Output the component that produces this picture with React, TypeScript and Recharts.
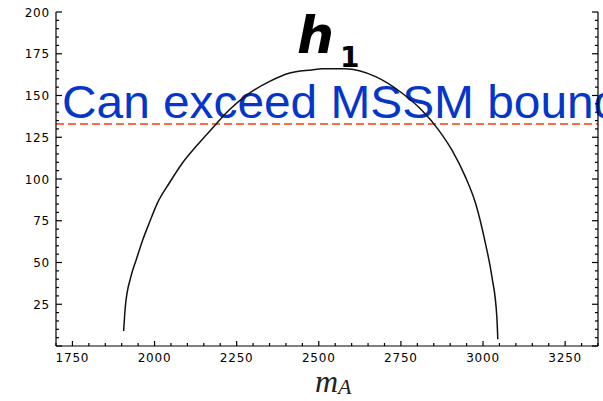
import React from 'react';
import { LineChart, Line, XAxis, YAxis, ReferenceLine } from 'recharts';

const mA = [1906, 1911, 1928, 1944, 1964, 1984, 2009, 2045, 2085, 2126, 2176, 2227, 2288, 2349, 2409, 2479, 2510, 2580, 2673, 2753, 2813, 2865, 2905, 2946, 2977, 3007, 3027, 3042, 3045];
const mh1 = [9, 23.5, 41.5, 51.5, 63.5, 73.7, 85.7, 97.6, 109.6, 119.4, 130.4, 141.3, 151.3, 158.3, 163.3, 165.3, 166, 166, 161.3, 151.5, 141.3, 129.3, 117.4, 101.4, 85.6, 61.7, 41.5, 17.5, 4];
const mssmBound = 133;
const xDomain: [number, number] = [1700, 3350];
const yDomain: [number, number] = [0, 200];
const xMajorStep = 250;
const xMinorStep = 50;
const yMajorStep = 25;
const yMinorStep = 5;
const annotation = 'Can exceed MSSM bound';

const data = mA.map((x, i) => ({ x, y: mh1[i] }));

const range = (a: number, b: number, s: number) => {
  const out: number[] = [];
  for (let v = a; v <= b + 1e-9; v += s) out.push(v);
  return out;
};
const xTicks = range(xDomain[0], xDomain[1], xMinorStep);
const yTicks = range(yDomain[0], yDomain[1], yMinorStep);

const labelStyle = { fontFamily: '"DejaVu Sans", Verdana, sans-serif', fontSize: 12, fill: '#000', letterSpacing: 0.8 };

const BottomTick = (p: any) => {
  const v = p.payload.value;
  const major = v % xMajorStep === 0;
  return (
    <g>
      <line x1={p.x} y1={p.y} x2={p.x} y2={p.y - (major ? 5 : 3)} stroke="#000" strokeWidth={1.2} />
      {major && (
        <text x={p.x} y={p.y + 16} textAnchor="middle" style={labelStyle}>{v}</text>
      )}
    </g>
  );
};
const TopTick = (p: any) => {
  const v = p.payload.value;
  const major = v % xMajorStep === 0;
  return <line x1={p.x} y1={p.y} x2={p.x} y2={p.y + (major ? 5 : 3)} stroke="#000" strokeWidth={1.2} />;
};
const LeftTick = (p: any) => {
  const v = p.payload.value;
  const major = v % yMajorStep === 0;
  return (
    <g>
      <line x1={p.x} y1={p.y} x2={p.x + (major ? 6 : 3)} y2={p.y} stroke="#000" strokeWidth={1.2} />
      {major && v > 0 && (
        <text x={p.x - 6} y={p.y + 4.5} textAnchor="end" style={labelStyle}>{v}</text>
      )}
    </g>
  );
};
const RightTick = (p: any) => {
  const v = p.payload.value;
  const major = v % yMajorStep === 0;
  return <line x1={p.x} y1={p.y} x2={p.x - (major ? 6 : 3)} y2={p.y} stroke="#000" strokeWidth={1.2} />;
};

const AxisTitle = () => (
  <text x={315} y={392} style={{ fontFamily: '"Liberation Serif", "DejaVu Serif", serif', fontStyle: 'italic', fontSize: 32, fill: '#222' }}>
    m
    <tspan dy={2} style={{ fontSize: 22 }}>A</tspan>
  </text>
);

const Annotations = () => (
  <g>
    <text
      transform="translate(62,118) scale(1.04,1)"
      x={0}
      y={0}
      style={{ fontFamily: '"Liberation Sans", Arial, sans-serif', fontSize: 46, fill: '#0536CC' }}
    >
      {annotation}
    </text>
    <text x={297} y={53} style={{ fontFamily: '"DejaVu Sans", sans-serif', fontStyle: 'italic', fontWeight: 'bold', fontSize: 52, fill: '#000' }}>h</text>
    <text x={340} y={67} style={{ fontFamily: '"DejaVu Sans", sans-serif', fontWeight: 'bold', fontSize: 28, fill: '#000' }}>1</text>
  </g>
);

export default function App() {
  return (
    <div style={{ position: 'absolute', left: 0, top: 0, background: '#fff' }}>
      <LineChart width={603} height={401} data={data} margin={{ top: 12, right: 0, bottom: 0, left: 0 }}>
        <XAxis
          dataKey="x"
          type="number"
          domain={xDomain}
          ticks={xTicks}
          interval={0}
          height={55}
          tickSize={0}
          tickMargin={0}
          tickLine={false}
          tick={<BottomTick />}
          axisLine={{ stroke: '#000', strokeWidth: 1.2 }}
          allowDataOverflow
          label={{ content: () => <AxisTitle /> }}
        />
        <XAxis
          xAxisId="top"
          orientation="top"
          dataKey="x"
          type="number"
          domain={xDomain}
          ticks={xTicks}
          interval={0}
          height={0}
          tickSize={0}
          tickMargin={0}
          tickLine={false}
          tick={<TopTick />}
          axisLine={{ stroke: '#000', strokeWidth: 1.2 }}
          allowDataOverflow
        />
        <YAxis
          type="number"
          domain={yDomain}
          ticks={yTicks}
          interval={0}
          width={56}
          tickSize={0}
          tickMargin={0}
          tickLine={false}
          tick={<LeftTick />}
          axisLine={{ stroke: '#000', strokeWidth: 1.2 }}
          allowDataOverflow
        />
        <YAxis
          yAxisId="right"
          orientation="right"
          type="number"
          domain={yDomain}
          ticks={yTicks}
          interval={0}
          width={5}
          tickSize={0}
          tickMargin={0}
          tickLine={false}
          tick={<RightTick />}
          axisLine={{ stroke: '#000', strokeWidth: 1.2 }}
          allowDataOverflow
        />
        <ReferenceLine
          y={mssmBound}
          stroke="#FF3A0A"
          strokeWidth={1.5}
          strokeDasharray="8 4"
          label={{ content: () => <Annotations /> }}
        />
        <Line
          dataKey="y"
          type="monotone"
          stroke="#111"
          strokeWidth={1.5}
          dot={false}
          isAnimationActive={false}
        />
      </LineChart>
    </div>
  );
}
